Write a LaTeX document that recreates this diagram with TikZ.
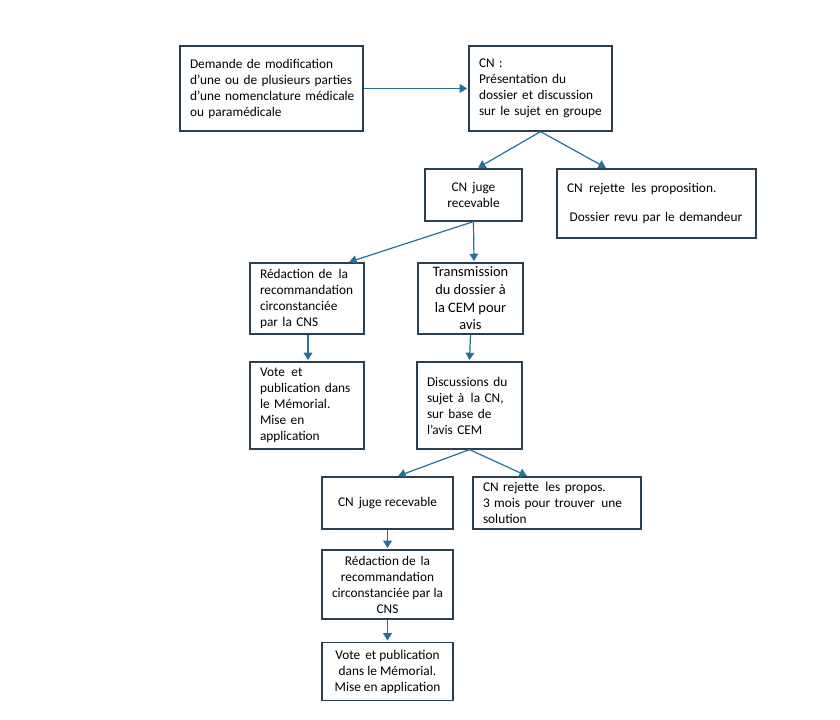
\documentclass[tikz,border=0pt]{standalone}
\usepackage{fontspec}
\setmainfont{Carlito}
\usetikzlibrary{arrows.meta,calc}
\definecolor{boxline}{HTML}{2B3F4E}
\definecolor{arrowc}{HTML}{24709A}
\newcommand{\dsp}{\hspace{1.5pt} }
\begin{document}
\begin{tikzpicture}[x=0.75pt,y=-0.75pt,
  box/.style={draw=boxline,line width=0.9pt,fill=white,inner ysep=0pt,
    font=\fontsize{10pt}{12pt}\selectfont},
  lbox/.style={box,align=left,inner xsep=7.5pt},
  cbox/.style={box,align=center,inner xsep=0pt},
  arr/.style={draw=arrowc,line width=0.9pt,-{Triangle[width=6.5pt,length=5.5pt]},shorten >=1pt}]
\path[use as bounding box,fill=white] (0,0) rectangle (840,720);

% boxes (centres in px, sizes in pt = px*0.75)
\node[lbox,text width=122.25pt,minimum height=63.75pt] (A) at (271.5,88.5)
  {\mbox{Demande de modification}\\\mbox{d’une ou de plusieurs parties}\\\mbox{d’une nomenclature médicale}\\\mbox{ou paramédicale}};
\node[lbox,text width=92.25pt,minimum height=63.75pt] (B) at (540.5,88.5)
  {\mbox{CN :}\\\mbox{Présentation du}\\\mbox{dossier et discussion}\\\mbox{sur le sujet en groupe}};
\node[cbox,minimum width=72.75pt,minimum height=39pt] (C) at (473.5,195)
  {CN\dsp juge\\recevable};
\node[lbox,text width=134.25pt,minimum height=51.75pt] (D) at (656.5,203.5)
  {\mbox{CN\dsp rejette\dsp les proposition.}\\[10pt]\mbox{\hspace{2pt}Dossier revu par le demandeur}};
\node[lbox,text width=70.5pt,minimum height=53.25pt] (E) at (307,298.5)
  {\mbox{Rédaction de\dsp la}\\\mbox{recommandation}\\\mbox{circonstanciée}\\\mbox{par la CNS}};
\node[cbox,minimum width=78.75pt,minimum height=53.25pt,
  font=\fontsize{10.8pt}{13.3pt}\selectfont] (F) at (470.5,298.5)
  {Transmission\\du dossier à\\la CEM pour\\avis};
\node[lbox,text width=70.5pt,minimum height=65.25pt] (G) at (307,405.5)
  {\mbox{Vote\dsp et}\\\mbox{publication dans}\\\mbox{le Mémorial.}\\\mbox{Mise en}\\\mbox{application}};
\node[lbox,text width=63.75pt,minimum height=65.25pt] (H) at (469.5,405.5)
  {\mbox{Discussions du}\\\mbox{sujet à\dsp la CN,}\\\mbox{sur base de}\\\mbox{l’avis CEM}};
\node[cbox,minimum width=98.25pt,minimum height=39pt] (I) at (387.5,503)
  {CN\dsp juge recevable};
\node[lbox,text width=111pt,minimum height=39pt] (J) at (557,503)
  {\mbox{CN rejette\dsp les propos.}\\\mbox{3 mois pour trouver\dsp une}\\\mbox{solution}};
\node[cbox,minimum width=98.25pt,minimum height=51.75pt] (K) at (387.5,584.5)
  {Rédaction de\dsp la\\recommandation\\circonstanciée par la\\CNS};
\node[cbox,minimum width=98.25pt,minimum height=43.5pt] (L) at (387.5,671.5)
  {Vote\dsp et publication\\dans le Mémorial.\\Mise en application};

% connectors
\draw[arr] (A.east) -- (B.west);
\draw[arr] (B.south) -- ($(C.north)+(3.5,0)$);
\draw[arr] (B.south) -- ($(D.north)+(-49.5,0)$);
\draw[arr] (C.south) -- ($(E.north)+(41,0)$);
\draw[arr] (C.south) -- ($(F.north)+(3.5,0)$);
\draw[arr] ($(E.south)+(1,0)$) -- ($(G.north)+(1,0)$);
\draw[arr] (F.south) -- (H.north);
\draw[arr] (H.south) -- ($(I.north)+(9.5,0)$);
\draw[arr] (H.south) -- ($(J.north)+(-29,0)$);
\draw[arr] (I.south) -- (K.north);
\draw[arr] (K.south) -- (L.north);
\end{tikzpicture}
\end{document}
